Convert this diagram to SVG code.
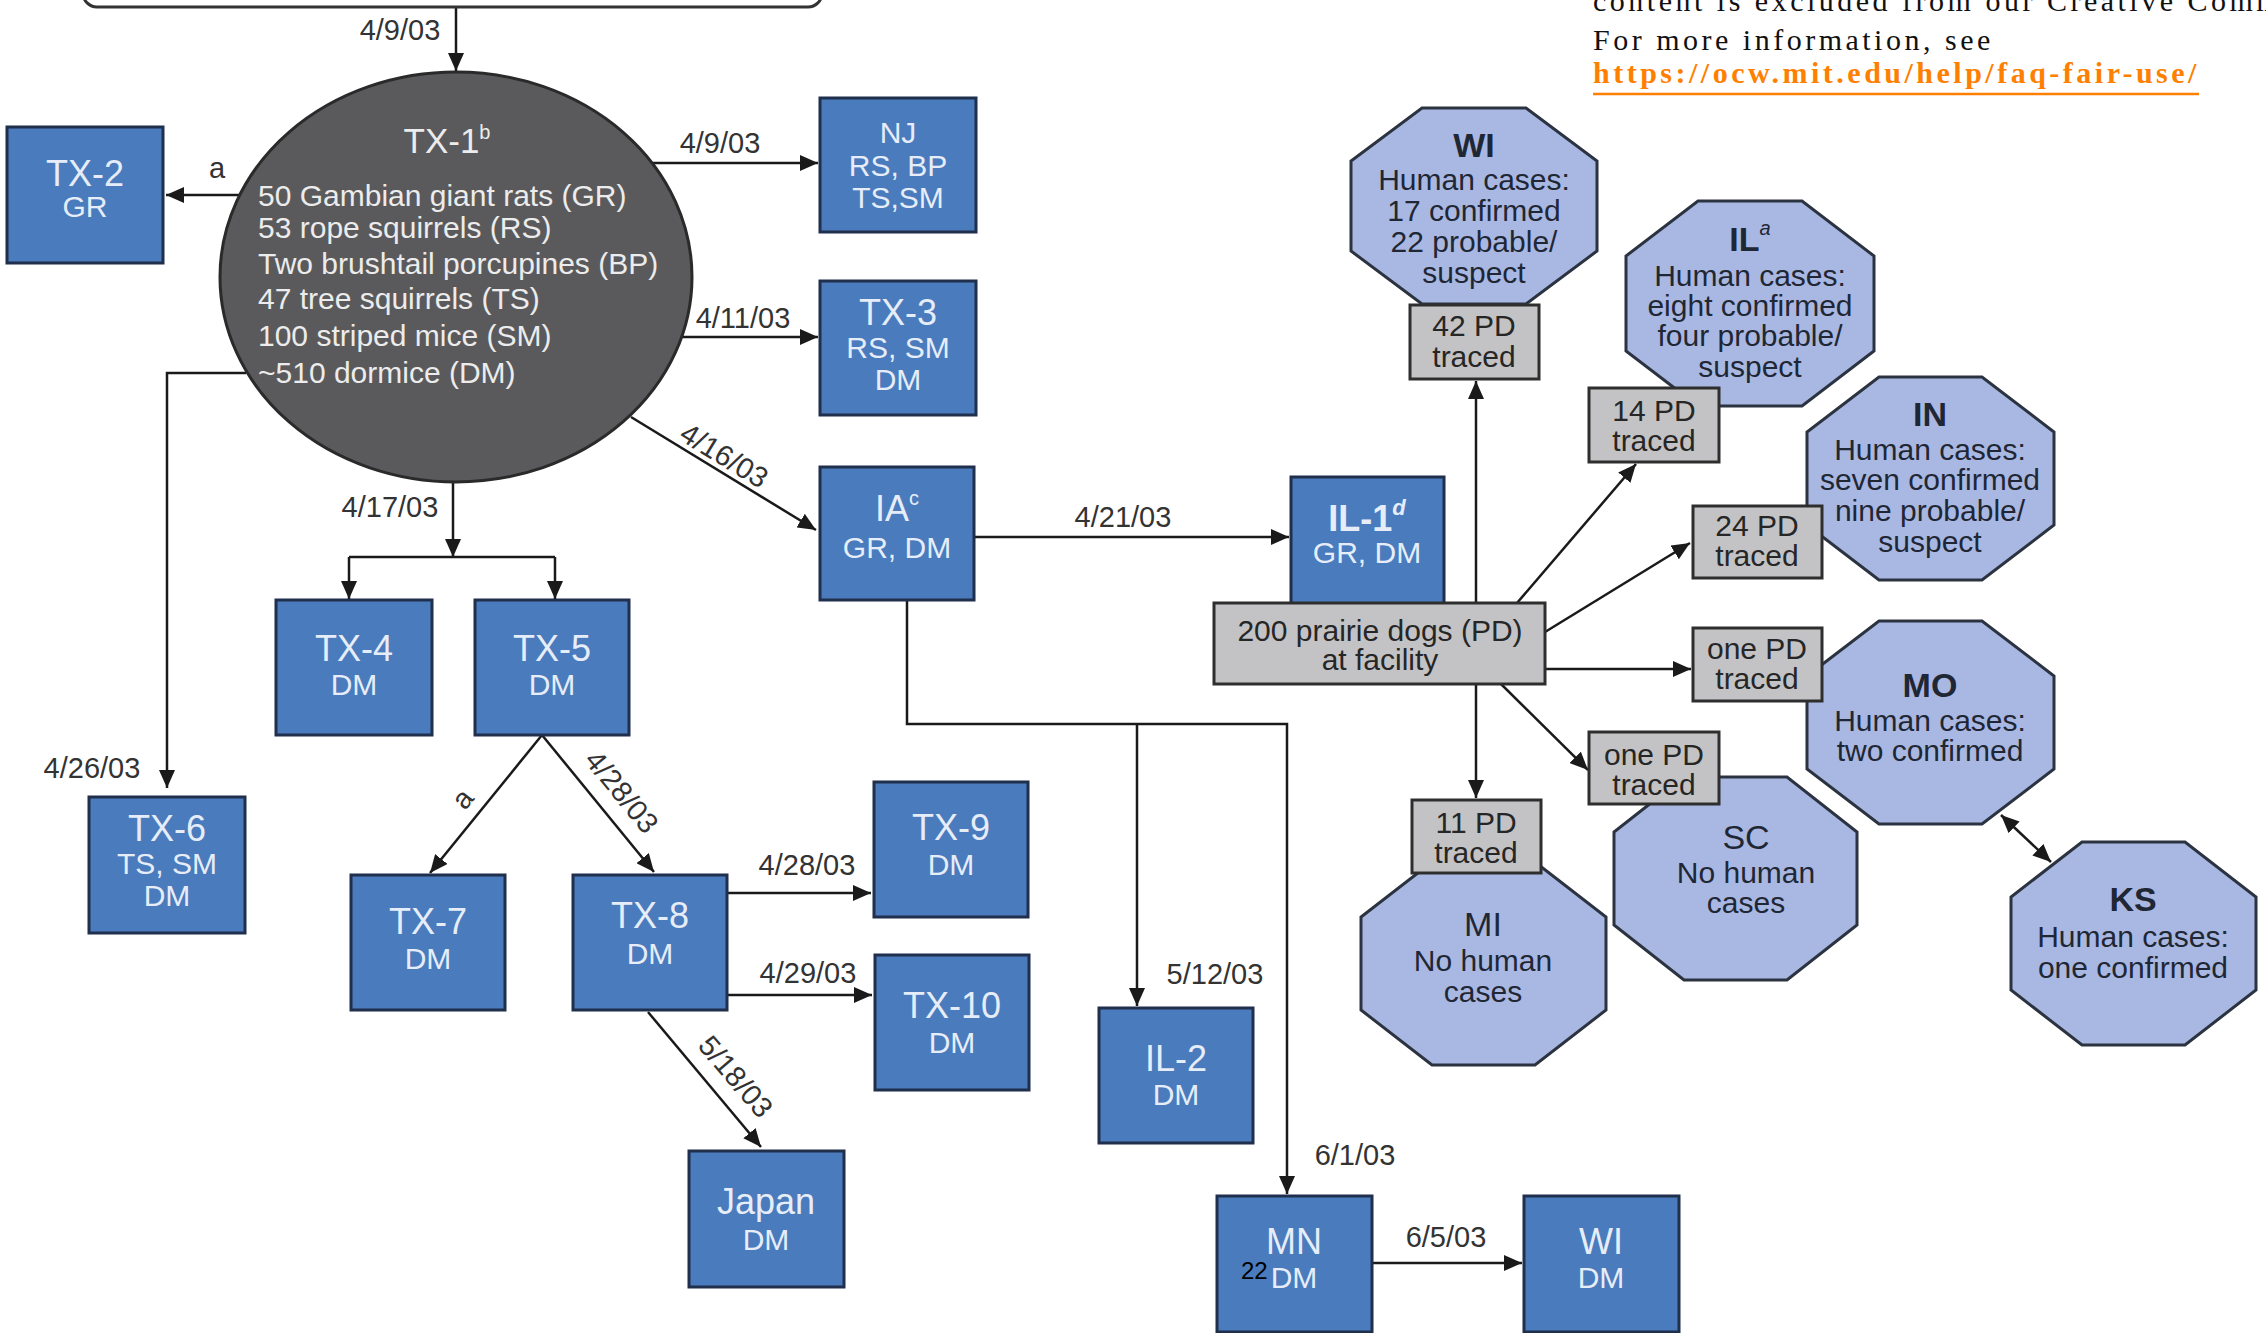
<svg xmlns="http://www.w3.org/2000/svg" width="2266" height="1333" viewBox="0 0 2266 1333">
<defs>
<style>
text{font-family:"Liberation Sans",Arial,sans-serif}
.blue{fill:#4a7bbd;stroke:#1f2f4c;stroke-width:3}
.oct{fill:#a9b8e2;stroke:#2c3340;stroke-width:3}
.gray{fill:#c3c3c5;stroke:#2e2e2e;stroke-width:3}
.bt{fill:#e6edf8;text-anchor:middle;font-size:36px}
.bs{fill:#e6edf8;text-anchor:middle;font-size:30px}
.ot{fill:#1f2735;text-anchor:middle;font-size:34px;font-weight:bold}
.or{fill:#1f2735;text-anchor:middle;font-size:34px}
.os{fill:#1f2735;text-anchor:middle;font-size:30px}
.gt{fill:#262626;text-anchor:middle;font-size:30px}
.ct{fill:#ececec;font-size:30px}
.ctt{fill:#ececec;font-size:35px;text-anchor:middle}
.lb{fill:#333;font-size:29px;text-anchor:middle}
.cn path{fill:none;stroke:#1a1a1a;stroke-width:2.5}
.note{font-family:"Liberation Serif","Times New Roman",serif;font-size:30px;letter-spacing:3.5px}
</style>
<marker id="ah" viewBox="0 0 18 16" markerWidth="18" markerHeight="16" refX="18" refY="8" orient="auto-start-reverse" markerUnits="userSpaceOnUse">
<path d="M0,0 L18,8 L0,16 z" fill="#1a1a1a"/>
</marker>
</defs>
<rect width="2266" height="1333" fill="#ffffff"/>

<g id="note">
<text class="note" x="1593" y="11" fill="#111">content is excluded from our Creative Comm</text>
<text class="note" x="1593" y="50" fill="#111">For more information, see</text>
<text class="note" x="1593" y="83" fill="#ff8000" font-weight="bold">https://ocw.mit.edu/help/faq-fair-use/</text>
<line x1="1593" y1="94" x2="2199" y2="94" stroke="#ff8000" stroke-width="2.5"/>
</g>

<g id="connectors" class="cn">
<path d="M456,7 L456,71" marker-end="url(#ah)"/>
<path d="M246,195 L166,195" marker-end="url(#ah)"/>
<path d="M650,163 L818,163" marker-end="url(#ah)"/>
<path d="M682,337 L818,337" marker-end="url(#ah)"/>
<path d="M631,417 L816,530" marker-end="url(#ah)"/>
<path d="M453,482 L453,557" marker-end="url(#ah)"/>
<path d="M349,557 L555,557"/>
<path d="M349,557 L349,599" marker-end="url(#ah)"/>
<path d="M555,557 L555,599" marker-end="url(#ah)"/>
<path d="M246,373 L167,373 L167,788" marker-end="url(#ah)"/>
<path d="M542,735 L430,873" marker-end="url(#ah)"/>
<path d="M542,735 L654,872" marker-end="url(#ah)"/>
<path d="M727,893 L871,893" marker-end="url(#ah)"/>
<path d="M727,995 L872,995" marker-end="url(#ah)"/>
<path d="M648,1012 L761,1147" marker-end="url(#ah)"/>
<path d="M974,537 L1289,537" marker-end="url(#ah)"/>
<path d="M907,600 L907,724 L1287,724 L1287,1194" marker-end="url(#ah)"/>
<path d="M1137,724 L1137,1006" marker-end="url(#ah)"/>
<path d="M1372,1263 L1522,1263" marker-end="url(#ah)"/>
<path d="M1476,603 L1476,381" marker-end="url(#ah)"/>
<path d="M1517,603 L1636,464" marker-end="url(#ah)"/>
<path d="M1545,632 L1690,543" marker-end="url(#ah)"/>
<path d="M1545,669 L1691,669" marker-end="url(#ah)"/>
<path d="M1501,684 L1588,770" marker-end="url(#ah)"/>
<path d="M1476,684 L1476,798" marker-end="url(#ah)"/>
<path d="M2001,815 L2051,862" marker-start="url(#ah)" marker-end="url(#ah)"/>
</g>

<g id="labels">
<text class="lb" x="400" y="40">4/9/03</text>
<text class="lb" x="217" y="178">a</text>
<text class="lb" x="720" y="153">4/9/03</text>
<text class="lb" x="743" y="328">4/11/03</text>
<text class="lb" transform="translate(719,464) rotate(31.4)">4/16/03</text>
<text class="lb" x="390" y="517">4/17/03</text>
<text class="lb" x="1123" y="527">4/21/03</text>
<text class="lb" x="92" y="778">4/26/03</text>
<text class="lb" transform="translate(470,805) rotate(-51)">a</text>
<text class="lb" transform="translate(614,798) rotate(50.7)">4/28/03</text>
<text class="lb" x="807" y="875">4/28/03</text>
<text class="lb" x="808" y="983">4/29/03</text>
<text class="lb" transform="translate(728,1083) rotate(49.6)">5/18/03</text>
<text class="lb" x="1215" y="984">5/12/03</text>
<text class="lb" x="1355" y="1165">6/1/03</text>
<text class="lb" x="1446" y="1247">6/5/03</text>
</g>

<g id="top-box"><rect x="83" y="-40" width="739" height="47" rx="14" fill="#fff" stroke="#333" stroke-width="3"/></g>

<g id="TX-1">
<ellipse cx="456" cy="277" rx="236" ry="205" fill="#5a5a5c" stroke="#2a2a2a" stroke-width="3"/>
<text class="ctt" x="447" y="153">TX-1<tspan dy="-14" font-size="20">b</tspan></text>
<text class="ct" x="258" y="206">50 Gambian giant rats (GR)</text>
<text class="ct" x="258" y="238">53 rope squirrels (RS)</text>
<text class="ct" x="258" y="274">Two brushtail porcupines (BP)</text>
<text class="ct" x="258" y="309">47 tree squirrels (TS)</text>
<text class="ct" x="258" y="346">100 striped mice (SM)</text>
<text class="ct" x="258" y="383">~510 dormice (DM)</text>
</g>

<g id="TX-2"><rect class="blue" x="7" y="127" width="156" height="136"/>
<text class="bt" x="85" y="186">TX-2</text><text class="bs" x="85" y="217">GR</text></g>
<g id="NJ"><rect class="blue" x="820" y="98" width="156" height="134"/>
<text class="bs" x="898" y="143">NJ</text><text class="bs" x="898" y="176">RS, BP</text><text class="bs" x="898" y="208">TS,SM</text></g>
<g id="TX-3"><rect class="blue" x="820" y="281" width="156" height="134"/>
<text class="bt" x="898" y="325">TX-3</text><text class="bs" x="898" y="358">RS, SM</text><text class="bs" x="898" y="390">DM</text></g>
<g id="IA"><rect class="blue" x="820" y="467" width="154" height="133"/>
<text class="bt" x="897" y="521">IA<tspan dy="-16" font-size="20">c</tspan></text><text class="bs" x="897" y="558">GR, DM</text></g>
<g id="IL-1"><rect class="blue" x="1291" y="477" width="153" height="127"/>
<text class="bt" x="1367" y="531" font-weight="bold">IL-1<tspan dy="-16" font-size="22" font-style="italic">d</tspan></text><text class="bs" x="1367" y="563">GR, DM</text></g>
<g id="TX-4"><rect class="blue" x="276" y="600" width="156" height="135"/>
<text class="bt" x="354" y="661">TX-4</text><text class="bs" x="354" y="695">DM</text></g>
<g id="TX-5"><rect class="blue" x="475" y="600" width="154" height="135"/>
<text class="bt" x="552" y="661">TX-5</text><text class="bs" x="552" y="695">DM</text></g>
<g id="TX-6"><rect class="blue" x="89" y="797" width="156" height="136"/>
<text class="bt" x="167" y="841">TX-6</text><text class="bs" x="167" y="874">TS, SM</text><text class="bs" x="167" y="906">DM</text></g>
<g id="TX-7"><rect class="blue" x="351" y="875" width="154" height="135"/>
<text class="bt" x="428" y="934">TX-7</text><text class="bs" x="428" y="969">DM</text></g>
<g id="TX-8"><rect class="blue" x="573" y="875" width="154" height="135"/>
<text class="bt" x="650" y="928">TX-8</text><text class="bs" x="650" y="964">DM</text></g>
<g id="TX-9"><rect class="blue" x="874" y="782" width="154" height="135"/>
<text class="bt" x="951" y="840">TX-9</text><text class="bs" x="951" y="875">DM</text></g>
<g id="TX-10"><rect class="blue" x="875" y="955" width="154" height="135"/>
<text class="bt" x="952" y="1018">TX-10</text><text class="bs" x="952" y="1053">DM</text></g>
<g id="Japan"><rect class="blue" x="689" y="1151" width="155" height="136"/>
<text class="bt" x="766" y="1214">Japan</text><text class="bs" x="766" y="1250">DM</text></g>
<g id="IL-2"><rect class="blue" x="1099" y="1008" width="154" height="135"/>
<text class="bt" x="1176" y="1071">IL-2</text><text class="bs" x="1176" y="1105">DM</text></g>
<g id="MN"><rect class="blue" x="1217" y="1196" width="155" height="136"/>
<text class="bt" x="1294" y="1254">MN</text><text class="bs" x="1294" y="1288">DM</text>
<text x="1241" y="1279" font-size="24" fill="#000">22</text></g>
<g id="WI-DM"><rect class="blue" x="1524" y="1196" width="155" height="136"/>
<text class="bt" x="1601" y="1254">WI</text><text class="bs" x="1601" y="1288">DM</text></g>

<g id="PD-facility"><rect class="gray" x="1214" y="603" width="331" height="81"/>
<text class="gt" x="1380" y="641">200 prairie dogs (PD)</text><text class="gt" x="1380" y="670">at facility</text></g>

<g id="WI-state"><polygon class="oct" points="1422,108 1526,108 1597,161 1597,251 1526,304 1422,304 1351,251 1351,161"/>
<text class="ot" x="1474" y="157">WI</text><text class="os" x="1474" y="190">Human cases:</text><text class="os" x="1474" y="221">17 confirmed</text><text class="os" x="1474" y="252">22 probable/</text><text class="os" x="1474" y="283">suspect</text></g>
<g id="IL-state"><polygon class="oct" points="1698,201 1802,201 1874,256 1874,351 1802,406 1698,406 1626,351 1626,256"/>
<text class="ot" x="1750" y="251">IL<tspan dy="-16" font-size="20" font-weight="normal" font-style="italic">a</tspan></text><text class="os" x="1750" y="286">Human cases:</text><text class="os" x="1750" y="316">eight confirmed</text><text class="os" x="1750" y="346">four probable/</text><text class="os" x="1750" y="377">suspect</text></g>
<g id="IN-state"><polygon class="oct" points="1879,377 1982,377 2054,432 2054,525 1982,580 1879,580 1807,525 1807,432"/>
<text class="ot" x="1930" y="426">IN</text><text class="os" x="1930" y="460">Human cases:</text><text class="os" x="1930" y="490">seven confirmed</text><text class="os" x="1930" y="521">nine probable/</text><text class="os" x="1930" y="552">suspect</text></g>
<g id="MO-state"><polygon class="oct" points="1879,621 1982,621 2054,676 2054,769 1982,824 1879,824 1807,769 1807,676"/>
<text class="ot" x="1930" y="697">MO</text><text class="os" x="1930" y="731">Human cases:</text><text class="os" x="1930" y="761">two confirmed</text></g>
<g id="SC-state"><polygon class="oct" points="1684,777 1787,777 1857,832 1857,925 1787,980 1684,980 1614,925 1614,832"/>
<text class="or" x="1746" y="849">SC</text><text class="os" x="1746" y="883">No human</text><text class="os" x="1746" y="913">cases</text></g>
<g id="MI-state"><polygon class="oct" points="1432,862 1535,862 1606,917 1606,1010 1535,1065 1432,1065 1361,1010 1361,917"/>
<text class="or" x="1483" y="936">MI</text><text class="os" x="1483" y="971">No human</text><text class="os" x="1483" y="1002">cases</text></g>
<g id="KS-state"><polygon class="oct" points="2082,842 2185,842 2256,897 2256,990 2185,1045 2082,1045 2011,990 2011,897"/>
<text class="ot" x="2133" y="911">KS</text><text class="os" x="2133" y="947">Human cases:</text><text class="os" x="2133" y="978">one confirmed</text></g>

<g id="PD-42"><rect class="gray" x="1410" y="305" width="129" height="74"/>
<text class="gt" x="1474" y="336">42 PD</text><text class="gt" x="1474" y="367">traced</text></g>
<g id="PD-14"><rect class="gray" x="1589" y="388" width="130" height="74"/>
<text class="gt" x="1654" y="421">14 PD</text><text class="gt" x="1654" y="451">traced</text></g>
<g id="PD-24"><rect class="gray" x="1693" y="506" width="129" height="72"/>
<text class="gt" x="1757" y="536">24 PD</text><text class="gt" x="1757" y="566">traced</text></g>
<g id="PD-one-MO"><rect class="gray" x="1693" y="628" width="129" height="73"/>
<text class="gt" x="1757" y="659">one PD</text><text class="gt" x="1757" y="689">traced</text></g>
<g id="PD-one-SC"><rect class="gray" x="1589" y="732" width="130" height="72"/>
<text class="gt" x="1654" y="765">one PD</text><text class="gt" x="1654" y="795">traced</text></g>
<g id="PD-11"><rect class="gray" x="1412" y="800" width="129" height="73"/>
<text class="gt" x="1476" y="833">11 PD</text><text class="gt" x="1476" y="863">traced</text></g>
</svg>
